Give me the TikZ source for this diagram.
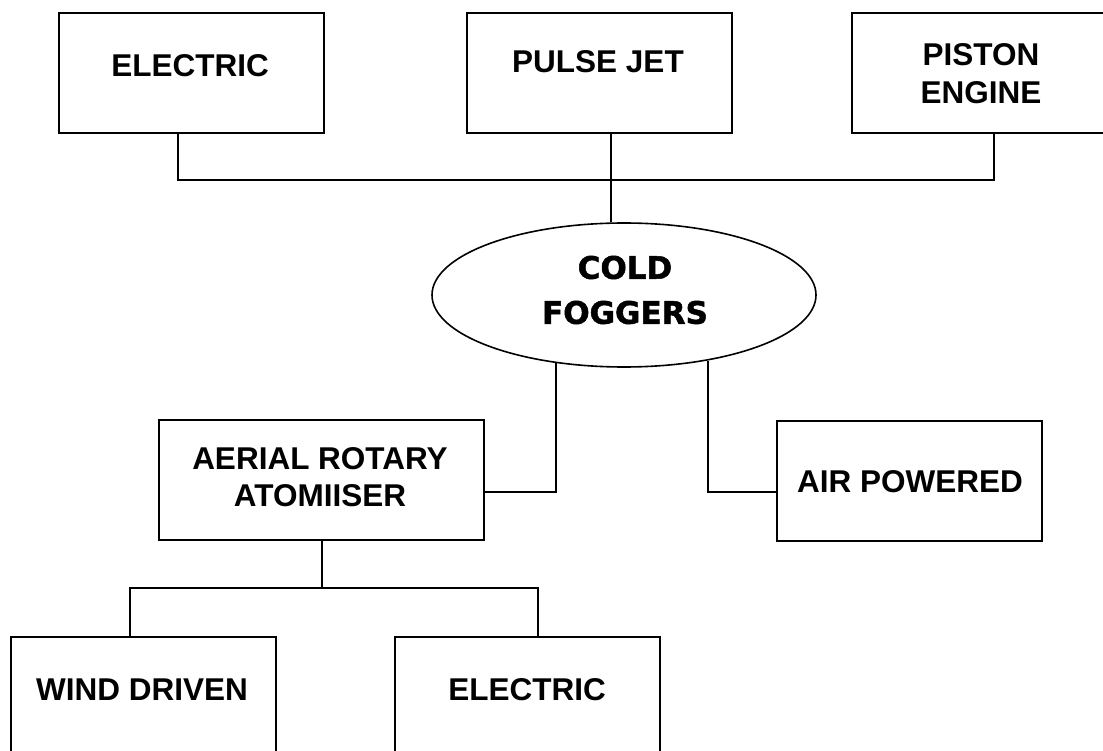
\documentclass[tikz,border=0pt]{standalone}
\usepackage{fontspec}
\setmainfont{Liberation Sans}
\newfontfamily\fogfont{DejaVu Sans}[BoldFeatures={FakeBold=1.6}]
\usetikzlibrary{shapes.geometric}
\begin{document}
\begin{tikzpicture}[x=1pt,y=-1pt,
  box/.style={draw,line width=1.8pt,inner sep=0pt,anchor=north west},
  lbl/.style={inner sep=0pt,font=\fontsize{31.5}{37}\selectfont\bfseries,align=center},
  conn/.style={draw,line width=1.5pt}]
\useasboundingbox (0,0) rectangle (1103,751);
\clip (0,0) rectangle (1103,751);
\fill[white] (0,0) rectangle (1103,751);
% boxes
\node[box,minimum width=265pt,minimum height=120pt] (e1) at (58,12) {};
\node[box,minimum width=265pt,minimum height=120pt] (pj) at (466,12) {};
\node[box,minimum width=260pt,minimum height=120pt] (pe) at (851,12) {};
\node[box,minimum width=325pt,minimum height=120pt] (ar) at (158,419) {};
\node[box,minimum width=265pt,minimum height=120pt] (ap) at (776,420) {};
\node[box,minimum width=265pt,minimum height=130pt] (wd) at (10,636) {};
\node[box,minimum width=265pt,minimum height=130pt] (e2) at (394,636) {};
\node[ellipse,draw,line width=1.6pt,inner sep=0pt,minimum width=384pt,minimum height=144pt] (fog) at (624,295) {};
% texts
\node[lbl,anchor=base] (te1) at (190,77) {ELECTRIC};
\node[lbl,anchor=base] (tpj) at (598,73) {PULSE JET};
\node[lbl,font=\fontsize{31.5}{38}\selectfont\bfseries] (tpe) at (981,73.5) {PISTON\\ENGINE};
\node[lbl] (tar) at (320,477.5) {AERIAL ROTARY\\ATOMIISER};
\node[lbl,anchor=base] (tap) at (910,492) {AIR POWERED};
\node[lbl,anchor=base] (twd) at (142,700) {WIND DRIVEN};
\node[lbl,anchor=base] (te2) at (527,700) {ELECTRIC};
\node[inner sep=0pt,align=center,font=\fogfont\fontsize{31}{45}\selectfont\bfseries] (tfog) at (625,290) {COLD\\FOGGERS};
% connectors
\coordinate (h1) at (178,180);
\coordinate (h2) at (611,180);
\coordinate (h3) at (994,180);
\draw[conn] (e1.south -| h1) -- (h1) -- (h3) -- (pe.south -| h3);
\draw[conn] (pj.south -| h2) -- (h2 |- fog.north);
\coordinate (cl) at (557,492);
\coordinate (cr) at (707,492);
\draw[conn] (fog.225) -- (fog.225 |- cl) -- (cl -| ar.east);
\draw[conn] (fog.322) -- (fog.322 |- cr) -- (cr -| ap.west);
\coordinate (b0) at (322,588);
\coordinate (b1) at (130,588);
\coordinate (b2) at (538,588);
\draw[conn] (ar.south -| b0) -- (b0);
\draw[conn] (wd.north -| b1) -- (b1) -- (b2) -- (e2.north -| b2);
\end{tikzpicture}
\end{document}
